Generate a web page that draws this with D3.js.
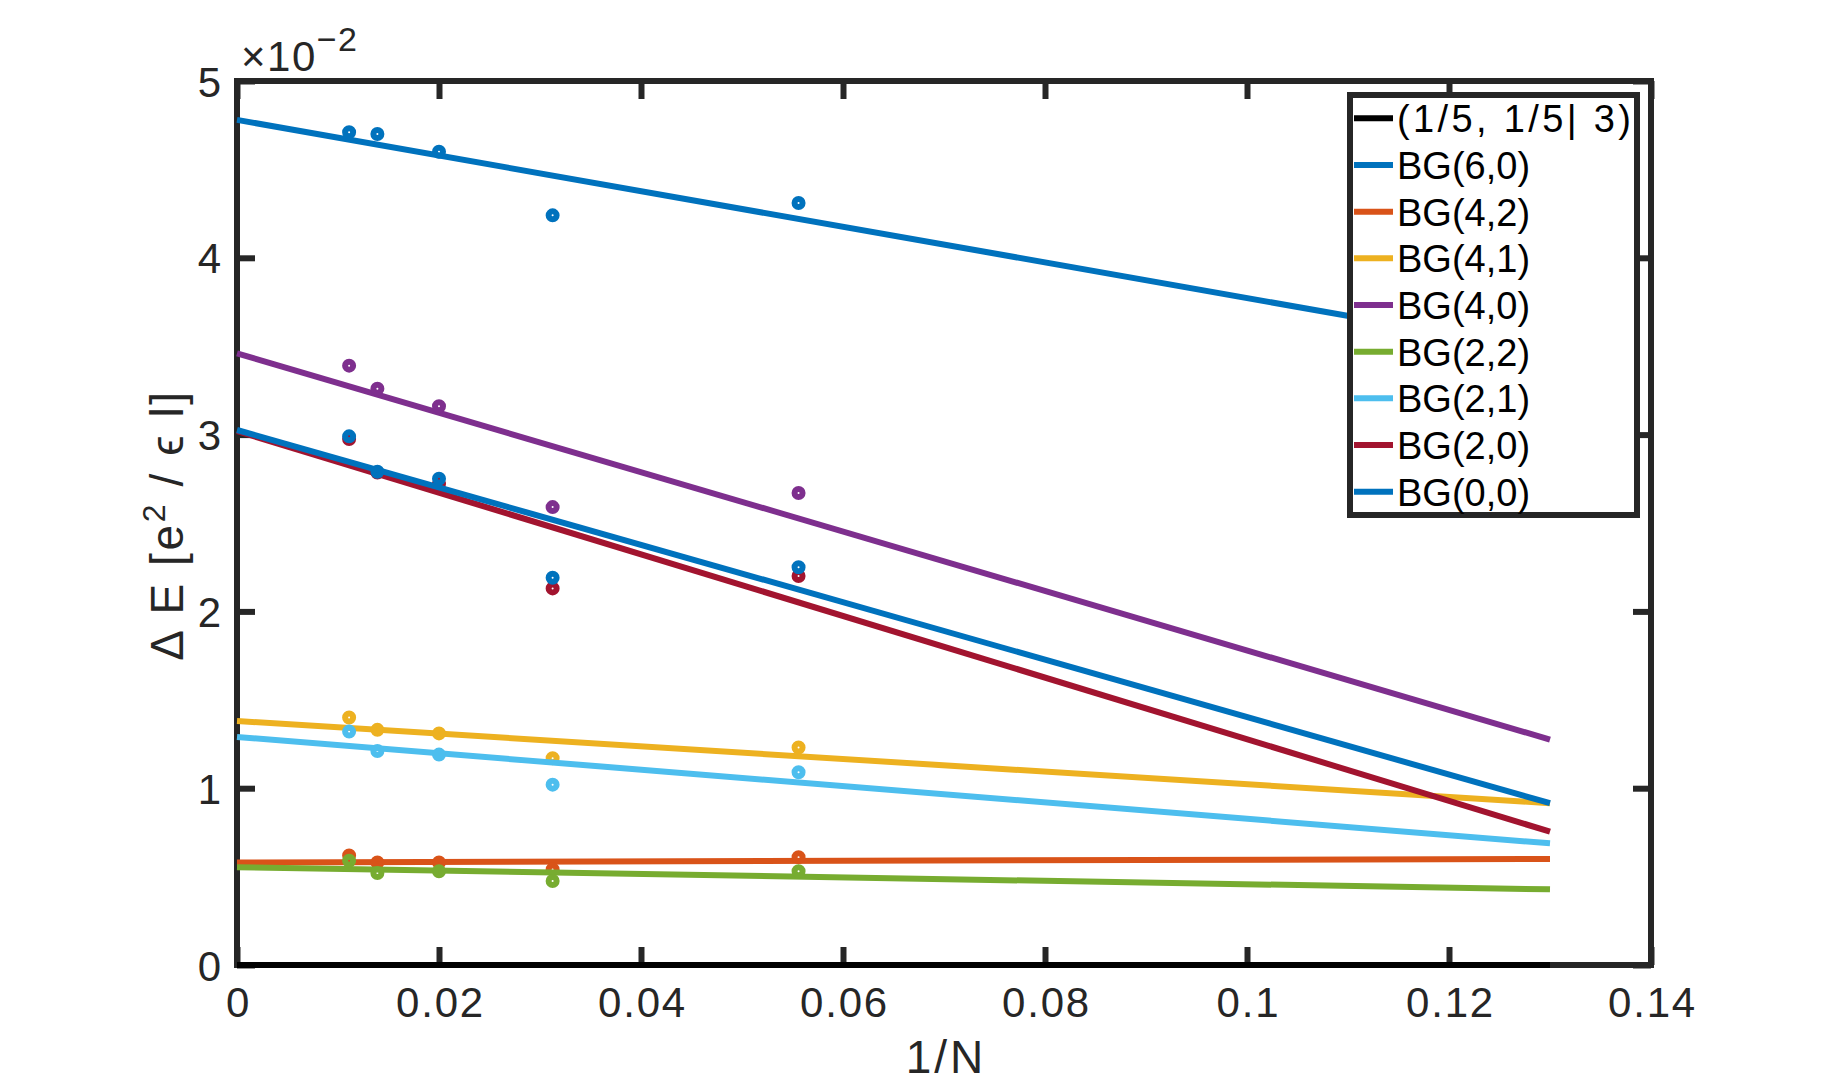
<!DOCTYPE html>
<html>
<head>
<meta charset="utf-8">
<script src="https://cdn.jsdelivr.net/npm/d3@7"></script>
<style>
  html, body { margin: 0; padding: 0; background: #fff; }
  #chart text { font-family: "Liberation Sans", Arial, sans-serif; }
</style>
</head>
<body>
<div id="chart"></div>
<script>
// x positions: 1/N for N = 90, 72, 50, 32, 18
const invN = [0.0111, 0.0139, 0.0200, 0.03125, 0.0556];

const seriesNames = ["(1/5, 1/5| 3)", "BG(6,0)", "BG(4,2)", "BG(4,1)", "BG(4,0)", "BG(2,2)", "BG(2,1)", "BG(2,0)", "BG(0,0)"];
const seriesColors = ["#000000", "#0072BD", "#D95319", "#EDB120", "#7E2F8E", "#77AC30", "#4DBEEE", "#A2142F", "#0072BD"];

// measured gaps, units of 1e-2 e^2/(eps l)
const bg60 = [4.71, 4.70, 4.60, 4.24, 4.31];
const bg42 = [0.62, 0.58, 0.58, 0.54, 0.61];
const bg41 = [1.40, 1.33, 1.31, 1.17, 1.23];
const bg40 = [3.39, 3.26, 3.16, 2.59, 2.67];
const bg22 = [0.59, 0.52, 0.53, 0.475, 0.53];
const bg21 = [1.32, 1.21, 1.19, 1.02, 1.09];
const bg20 = [2.975, 2.785, 2.72, 2.13, 2.20];
const bg00 = [2.99, 2.79, 2.75, 2.19, 2.25];
const points = [[], bg60, bg42, bg41, bg40, bg22, bg21, bg20, bg00];

// linear fits: value at 1/N = 0 and at 1/N = 0.13
const fitX = [0, 0.13];
const fitStart = [0, 4.78, 0.58, 1.38, 3.46, 0.553, 1.29, 3.02, 3.026];
const fitEnd   = [0, 3.47, 0.60, 0.915, 1.275, 0.428, 0.688, 0.754, 0.915];

const xTicks = [0, 0.02, 0.04, 0.06, 0.08, 0.1, 0.12, 0.14];
const xTickLabels = ["0", "0.02", "0.04", "0.06", "0.08", "0.1", "0.12", "0.14"];
const yTicks = [0, 1, 2, 3, 4, 5];
const yTickLabels = ["0", "1", "2", "3", "4", "5"];

const w = 1824, h = 1085;
const margin = { top: 81, right: 173, bottom: 120, left: 237 };
const axisCol = "#262626";

const svg = d3.select("#chart").append("svg")
  .attr("width", w)
  .attr("height", h)
  .style("display", "block")
  .style("background", "#fff");

const xSc = d3.scaleLinear().domain([0, 0.14]).range([margin.left, w - margin.right]);
const ySc = d3.scaleLinear().domain([0, 5]).range([h - margin.bottom, margin.top]);

const styleAxis = g => {
  g.select(".domain").remove();
  g.selectAll(".tick line").attr("stroke", axisCol).attr("stroke-width", 6);
  g.selectAll(".tick text")
    .attr("fill", axisCol)
    .style("font-size", "42px")
    .style("letter-spacing", "1.8px");
};

// axes box (drawn below the data, like MATLAB's default layer)
svg.append("rect")
  .attr("x", xSc(0)).attr("y", ySc(5))
  .attr("width", xSc(0.14) - xSc(0))
  .attr("height", ySc(0) - ySc(5))
  .attr("fill", "none")
  .attr("stroke", axisCol)
  .attr("stroke-width", 6);

svg.append("g")
  .attr("transform", `translate(0,${ySc(0)})`)
  .call(d3.axisBottom(xSc).tickValues(xTicks)
    .tickFormat((d, i) => xTickLabels[i])
    .tickSizeInner(-18).tickSizeOuter(0).tickPadding(22))
  .call(styleAxis)
  .selectAll(".tick text").attr("dx", "1px");

svg.append("g")
  .attr("transform", `translate(0,${ySc(5)})`)
  .call(d3.axisTop(xSc).tickValues(xTicks).tickFormat("")
    .tickSizeInner(-18).tickSizeOuter(0))
  .call(styleAxis);

svg.append("g")
  .attr("transform", `translate(${xSc(0)},0)`)
  .call(d3.axisLeft(ySc).tickValues(yTicks)
    .tickFormat((d, i) => yTickLabels[i])
    .tickSizeInner(-18).tickSizeOuter(0).tickPadding(14))
  .call(styleAxis)
  .selectAll(".tick text").attr("dy", "0.36em");

svg.append("g")
  .attr("transform", `translate(${xSc(0.14)},0)`)
  .call(d3.axisRight(ySc).tickValues(yTicks).tickFormat("")
    .tickSizeInner(-18).tickSizeOuter(0))
  .call(styleAxis);

// exponent note
const expo = svg.append("text")
  .attr("x", 241).attr("y", 71)
  .attr("fill", axisCol)
  .style("font-size", "42px")
  .style("letter-spacing", "1.5px");
expo.append("tspan").text("\u00d710");
expo.append("tspan").attr("dy", -20).style("font-size", "34px").text("\u22122");

// axis labels
svg.append("text")
  .attr("x", (xSc(0) + xSc(0.14)) / 2 + 2)
  .attr("y", 1073)
  .attr("text-anchor", "middle")
  .attr("fill", axisCol)
  .style("font-size", "46px")
  .style("letter-spacing", "3px")
  .text("1/N");

const yl = svg.append("text")
  .attr("transform", `translate(183,${(ySc(0) + ySc(5)) / 2 + 2}) rotate(-90)`)
  .attr("text-anchor", "middle")
  .attr("fill", axisCol)
  .style("font-size", "46px")
  .style("letter-spacing", "2.6px");
yl.append("tspan").text("\u0394 E [e");
yl.append("tspan").attr("dy", -18).style("font-size", "32px").text("2");
yl.append("tspan").attr("dy", 18).text(" / \u03f5 l]");

// fits and points
const line = d3.line().x(d => xSc(d[0])).y(d => ySc(d[1]));

seriesNames.forEach((name, i) => {
  const g = svg.append("g").attr("class", "series");
  g.append("path")
    .datum([[fitX[0], fitStart[i]], [fitX[1], fitEnd[i]]])
    .attr("fill", "none")
    .attr("stroke", seriesColors[i])
    .attr("stroke-width", 6)
    .attr("d", line);
  g.selectAll("circle")
    .data(points[i])
    .join("circle")
      .attr("cx", (d, j) => xSc(invN[j]))
      .attr("cy", d => ySc(d))
      .attr("r", 4)
      .attr("fill", "none")
      .attr("stroke", seriesColors[i])
      .attr("stroke-width", 6);
});

// legend
const legend = svg.append("g").attr("class", "legend");
legend.append("rect")
  .attr("x", 1350).attr("y", 95)
  .attr("width", 287).attr("height", 420)
  .attr("fill", "#fff")
  .attr("stroke", axisCol)
  .attr("stroke-width", 6);

seriesNames.forEach((name, i) => {
  const yy = 118.3 + i * 46.67;
  legend.append("line")
    .attr("x1", 1354).attr("x2", 1393)
    .attr("y1", yy).attr("y2", yy)
    .attr("stroke", seriesColors[i])
    .attr("stroke-width", 6);
  const t = legend.append("text")
    .attr("x", 1397).attr("y", yy + 14)
    .attr("fill", "#000")
    .style("font-size", "38px")
    .text(name);
  if (i === 0) t.attr("textLength", 234).attr("lengthAdjust", "spacing");
});
</script>
</body>
</html>
